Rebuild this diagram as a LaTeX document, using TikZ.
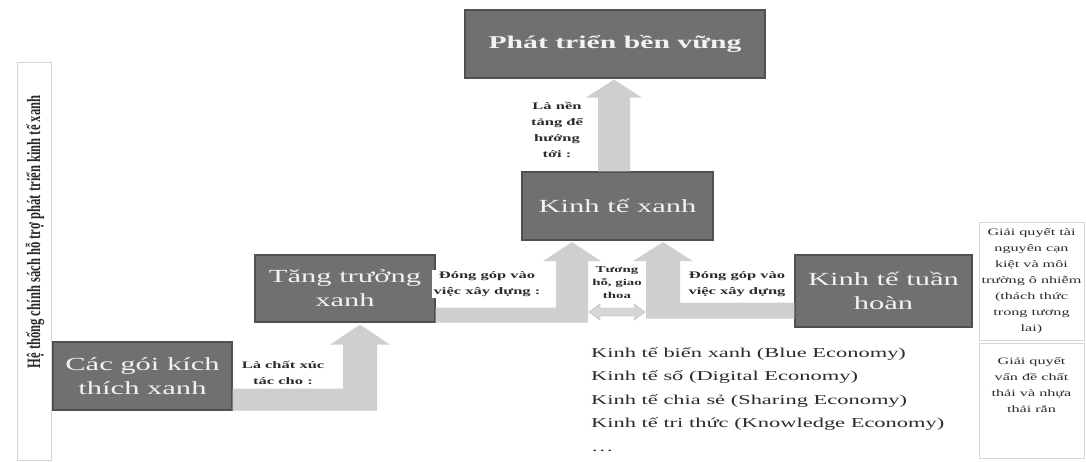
\documentclass[tikz,border=0pt]{standalone}
\usepackage{fontspec}
\setmainfont{Liberation Serif}[FakeStretch=1.65]
\newfontfamily\plainserif{Liberation Serif}
\usetikzlibrary{calc}
\definecolor{boxfill}{HTML}{707070}
\definecolor{boxline}{HTML}{505050}
\definecolor{arr}{HTML}{CFCFCF}
\definecolor{txt}{HTML}{2B2B2B}
\definecolor{frame}{HTML}{D6D6D6}
\begin{document}
\begin{tikzpicture}[x=1pt,y=-1pt,
 mainbox/.style={draw=boxline, line width=1.2pt, fill=boxfill, text=white!90!gray, inner sep=0pt, align=center, font=\fontsize{18.5}{24}\selectfont},
 lbl/.style={fill=white, text=txt, inner sep=1.5pt, align=center, font=\bfseries\fontsize{10}{16}\selectfont},
 blk/.style={fill=arr, draw=none},
 side/.style={draw=frame, line width=0.8pt},
 sidetext/.style={align=center, text=txt, font=\fontsize{9.8}{16}\selectfont}
]
\useasboundingbox (0,0) rectangle (1086,462);
\fill[white] (0,0) rectangle (1086,462);

% main boxes
\node[mainbox, minimum width=300, minimum height=68, font=\bfseries\fontsize{18}{24}\selectfont] (pt) at (615,44) {Phát triển bền vững};
\node[mainbox, minimum width=191, minimum height=68] (ktx) at (617.5,206) {Kinh tế xanh};
\node[mainbox, minimum width=180, minimum height=67] (ttx) at (345,288.5) {Tăng trưởng\\xanh};
\node[mainbox, minimum width=179, minimum height=68] (cgk) at (142.5,376) {Các gói kích\\thích xanh};
\node[mainbox, minimum width=177, minimum height=72] (ktth) at (883.5,291) {Kinh tế tuần\\hoàn};

% vertical arrow ktx -> pt
\coordinate (a1b) at ($(ktx.north)+(-3.5,0)$);
\coordinate (a1t) at (a1b |- pt.south);
\fill[blk] ($(a1b)+(-16,0)$) -- ($(a1t)+(-16,19)$) -- ($(a1t)+(-28,19)$) -- ($(a1t)+(0,1)$)
  -- ($(a1t)+(28,19)$) -- ($(a1t)+(16,19)$) -- ($(a1b)+(16,0)$) -- cycle;

% L arrow cgk -> ttx
\coordinate (l1tip) at ($(ttx.south)+(15,2)$);
\coordinate (l1c) at (cgk.south east -| l1tip);
\fill[blk] ($(cgk.south east)+(0,-22)$) -- ($(l1c)+(-17,-22)$) -- ($(l1tip)+(-17,20)$) -- ($(l1tip)+(-30,20)$)
  -- (l1tip) -- ($(l1tip)+(30,20)$) -- ($(l1tip)+(17,20)$) -- ($(l1c)+(17,0)$) -- (cgk.south east) -- cycle;

% L arrow ttx -> ktx
\coordinate (l2tip) at ($(ktx.south)+(-45.5,1.5)$);
\coordinate (l2c) at (ttx.south east -| l2tip);
\fill[blk] ($(ttx.south east)+(0,-15)$) -- ($(l2c)+(-16,-15)$) -- ($(l2tip)+(-16,19)$) -- ($(l2tip)+(-29,19)$)
  -- (l2tip) -- ($(l2tip)+(29,19)$) -- ($(l2tip)+(16,19)$) -- ($(l2c)+(16,0)$) -- (ttx.south east) -- cycle;

% L arrow ktth -> ktx
\coordinate (r1tip) at ($(ktx.south)+(45.5,1.5)$);
\coordinate (r1c) at ($(ktth.south west -| r1tip)+(0,-9)$);
\coordinate (r1e) at ($(ktth.south west)+(0,-9)$);
\fill[blk] ($(r1e)+(0,-16)$) -- ($(r1c)+(17,-16)$) -- ($(r1tip)+(17,19)$) -- ($(r1tip)+(30,19)$)
  -- (r1tip) -- ($(r1tip)+(-30,19)$) -- ($(r1tip)+(-17,19)$) -- ($(r1c)+(-17,0)$) -- (r1e) -- cycle;

% double arrow between the two
\coordinate (dl) at (589,312);
\coordinate (dr) at (645,312);
\fill[arr!85!white, draw=arr!70!gray, line width=0.4pt] (dl) -- ($(dl)+(11,-8)$) -- ($(dl)+(11,-4)$) -- ($(dr)+(-11,-4)$) -- ($(dr)+(-11,-8)$)
  -- (dr) -- ($(dr)+(-11,8)$) -- ($(dr)+(-11,4)$) -- ($(dl)+(11,4)$) -- ($(dl)+(11,8)$) -- cycle;

% labels
\node[lbl] (lb1) at (557,130) {Là nền\\tảng để\\hướng\\tới :};
\node[lbl] (lb2) at (487,284) {Đóng góp vào\\việc xây dựng :};
\node[lbl] (lb3) at (737,284) {Đóng góp vào\\việc xây dựng};
\node[lbl, font=\bfseries\fontsize{9}{13}\selectfont, inner sep=1pt] (lb4) at (617,283) {Tương\\hỗ, giao\\thoa};
\node[lbl] (lb5) at (283,373) {Là chất xúc\\tác cho :};

% list
\node[anchor=north west, align=left, text=txt, inner sep=0pt, font=\fontsize{13.6}{23.5}\selectfont] (list) at (591,347)
 {Kinh tế biển xanh (Blue Economy)\\Kinh tế số (Digital Economy)\\Kinh tế chia sẻ (Sharing Economy)\\Kinh tế tri thức (Knowledge Economy)\\…};

% right side boxes
\draw[side] (979,222) rectangle (1084,340);
\draw[side] (979,343) rectangle (1084,458);
\node[sidetext] (rt1) at (1031.5,281) {Giải quyết tài\\nguyên cạn\\kiệt và môi\\trường ô nhiễm\\(thách thức\\trong tương\\lai)};
\node[sidetext] (rt2) at (1031.5,385) {Giải quyết\\vấn đề chất\\thải và nhựa\\thải rắn};

% left vertical frame and text
\draw[side] (17,62) rectangle (51,460);
\node[rotate=90, text=txt, inner sep=0pt] (vt) at (35,232) {\scalebox{1}[1.5]{\plainserif\bfseries\fontsize{12.6}{14}\selectfont Hệ thống chính sách hỗ trợ phát triển kinh tế xanh}};
\end{tikzpicture}
\end{document}
